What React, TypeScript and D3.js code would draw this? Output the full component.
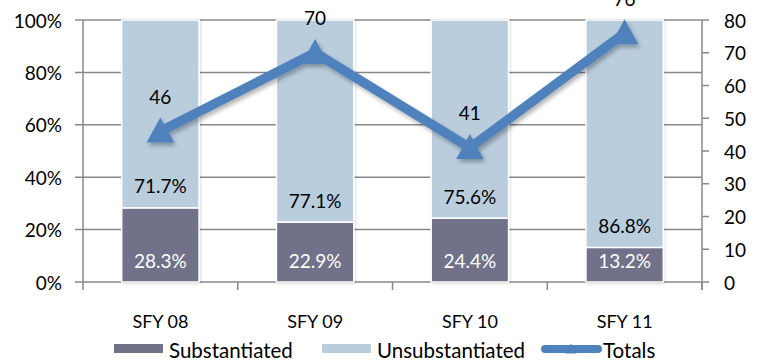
import React from "react";
import * as d3 from "d3";

const categories = ["SFY 08", "SFY 09", "SFY 10", "SFY 11"];
const substantiated = [28.3, 22.9, 24.4, 13.2];
const unsubstantiated = [71.7, 77.1, 75.6, 86.8];
const totals = [46, 70, 41, 76];
const leftTicks = [0, 20, 40, 60, 80, 100];
const rightTicks = [0, 10, 20, 30, 40, 50, 60, 70, 80];

const W = 766, H = 363;
const L = 83, R = 702, T = 20, B = 282;
const FONT = "Lato, 'Open Sans', sans-serif";
const DARK = "#71718A";
const LIGHT = "#B9CDDD";
const BLUE = "#4F81BD";
const GRID = "#888888";

export default function App() {
  const x = d3.scaleBand<string>().domain(categories).range([L, R]).paddingInner(0.5).paddingOuter(0.25);
  const yL = d3.scaleLinear().domain([0, 100]).range([B, T]);
  const yR = d3.scaleLinear().domain([0, 80]).range([B, T]);
  const step = x.step();
  const cx = (c: string) => (x(c) as number) + x.bandwidth() / 2;
  const line = d3.line<number>().x((_, i) => cx(categories[i])).y((d) => yR(d));
  const tri = (px: number, py: number, s: number) =>
    `M${px},${py - s * 0.55} L${px + s * 0.55},${py + s * 0.45} L${px - s * 0.55},${py + s * 0.45} Z`;

  return (
    <svg width={W} height={H} style={{ position: "absolute", left: 0, top: 0, background: "#fff" }} fontFamily={FONT}>
      <defs>
        <filter id="sh" x="-30%" y="-30%" width="160%" height="160%">
          <feDropShadow dx="2" dy="3" stdDeviation="2" floodColor="#000" floodOpacity="0.3" />
        </filter>
        <filter id="bsh" x="-10%" y="-5%" width="120%" height="110%">
          <feDropShadow dx="1" dy="1" stdDeviation="1.5" floodColor="#000" floodOpacity="0.15" />
        </filter>
      </defs>
      {leftTicks.map((t) => (
        <line key={"g" + t} x1={L - 8} x2={R} y1={yL(t)} y2={yL(t)} stroke={GRID} strokeWidth={1.5} />
      ))}
      <line x1={L} x2={L} y1={T} y2={B} stroke={GRID} strokeWidth={1.5} />
      <line x1={R} x2={R} y1={T} y2={B + 8} stroke={GRID} strokeWidth={1.5} />
      {rightTicks.map((t) => (
        <line key={"rt" + t} x1={R} x2={R + 7} y1={yR(t)} y2={yR(t)} stroke={GRID} strokeWidth={1.5} />
      ))}
      {d3.range(categories.length + 1).map((i) => (
        <line key={"ct" + i} x1={L + i * step} x2={L + i * step} y1={B} y2={B + 8} stroke={GRID} strokeWidth={1.5} />
      ))}
      {leftTicks.map((t) => (
        <text key={"lt" + t} x={L - 21} y={yL(t)} textAnchor="end" dominantBaseline="central" fontSize={19} fill="#000">
          {t}%
        </text>
      ))}
      {rightTicks.map((t) => (
        <text key={"rl" + t} x={R + 22} y={yR(t)} textAnchor="start" dominantBaseline="central" fontSize={19} fill="#000">
          {t}
        </text>
      ))}
      {categories.map((c, i) => {
        const bx = x(c) as number;
        const bw = x.bandwidth();
        const s = substantiated[i];
        const u = unsubstantiated[i];
        return (
          <g key={c} filter="url(#bsh)">
            <rect x={bx} y={yL(s)} width={bw} height={yL(0) - yL(s)} fill={DARK} stroke="#fff" strokeWidth={1.5} />
            <rect x={bx} y={yL(s + u)} width={bw} height={yL(s) - yL(s + u)} fill={LIGHT} stroke="#fff" strokeWidth={1.5} />
          </g>
        );
      })}
      {categories.map((c, i) => {
        const s = substantiated[i];
        return (
          <g key={"bl" + c}>
            <text x={cx(c)} y={yL(0) - 22} textAnchor="middle" dominantBaseline="central" fontSize={19} fill="#fff">
              {s.toFixed(1)}%
            </text>
            <text x={cx(c)} y={yL(s) - 22} textAnchor="middle" dominantBaseline="central" fontSize={19} fill="#000">
              {unsubstantiated[i].toFixed(1)}%
            </text>
          </g>
        );
      })}
      {categories.map((c) => (
        <text key={"cl" + c} x={cx(c)} y={321} textAnchor="middle" dominantBaseline="central" fontSize={18} fill="#000">
          {c}
        </text>
      ))}
      <g filter="url(#sh)">
        <path d={line(totals) || ""} fill="none" stroke={BLUE} strokeWidth={9.5} strokeLinejoin="miter" />
        {totals.map((t, i) => (
          <path key={"m" + i} d={tri(cx(categories[i]), yR(t), 25)} fill={BLUE} />
        ))}
      </g>
      {totals.map((t, i) => (
        <text key={"tl" + i} x={cx(categories[i])} y={yR(t) - 35} textAnchor="middle" dominantBaseline="central" fontSize={19} fill="#000">
          {t}
        </text>
      ))}
      <rect x={114} y={344} width={49} height={9} fill={DARK} />
      <text x={169} y={350} dominantBaseline="central" fontSize={20.5} fill="#000">Substantiated</text>
      <rect x={322} y={344} width={49} height={9} fill={LIGHT} />
      <text x={377} y={350} dominantBaseline="central" fontSize={20.5} fill="#000">Unsubstantiated</text>
      <line x1={545} x2={598} y1={349} y2={349} stroke={BLUE} strokeWidth={8} strokeLinecap="round" />
      <path d={tri(571, 349, 10)} fill={BLUE} />
      <text x={603} y={350} dominantBaseline="central" fontSize={20.5} fill="#000">Totals</text>
    </svg>
  );
}
